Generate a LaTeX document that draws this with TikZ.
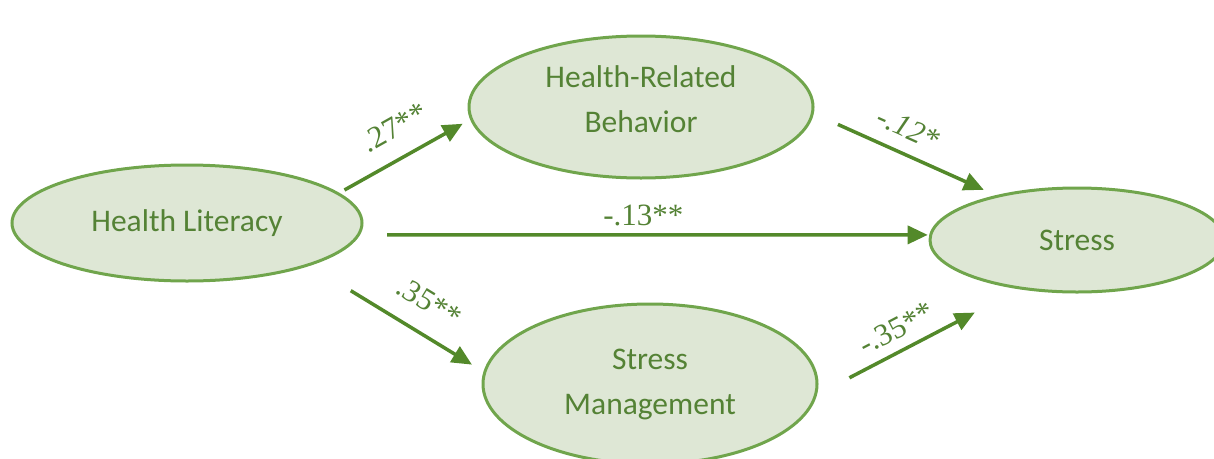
\documentclass[tikz,border=0pt]{standalone}
\usepackage{fontspec}
\setmainfont{Carlito}
\newfontfamily\coeffont{Liberation Serif}
\usetikzlibrary{shapes.geometric,arrows.meta}
\definecolor{leaf}{RGB}{84,130,53}
\definecolor{leafline}{RGB}{112,165,76}
\definecolor{leaffill}{RGB}{222,231,213}
\definecolor{pathgreen}{RGB}{83,137,42}
\begin{document}
\begin{tikzpicture}[x=1pt, y=-1pt,
    var/.style={ellipse, draw=leafline, fill=leaffill, line width=3pt, inner sep=0pt, outer sep=0pt,
      text=leaf, align=center, font=\fontsize{31.5}{45}\selectfont},
    eff/.style={draw=pathgreen, line width=3.5pt, -{Triangle[length=20pt,width=18pt]}},
    coef/.style={text=leaf, font=\coeffont\fontsize{31}{31}\selectfont, sloped, inner sep=0pt}]
   \useasboundingbox (0,0) rectangle (1214,458);
   % the four variables
   \node[var, minimum width=350pt, minimum height=116pt] (hl) at (187,223) {Health Literacy};
   \node[var, minimum width=344pt, minimum height=142pt, text depth=16pt] (hrb) at (641,107) {Health-Related\\Behavior};
   \node[var, minimum width=334pt, minimum height=160pt] (sm) at (650,384) {Stress\\Management};
   \node[var, minimum width=294pt, minimum height=104pt] (st) at (1077,240) {Stress};
   % paths with coefficients
   \draw[eff, shorten <=7.5pt, shorten >=10pt] (hl.11) -- (hrb.184)
      node[coef, pos=.533, above=18pt] {.27**};
   \draw[eff, shorten <=28pt, shorten >=15.5pt] (hrb.358) -- (st.151)
      node[coef, pos=.462, above=13pt] {\itshape -.12*};
   \draw[eff, shorten <=29pt, shorten >=3pt] (hl.356) -- (st.178)
      node[coef, pos=.498, above=7pt] {-.13**};
   \draw[eff, shorten <=49.7pt, shorten >=15pt] (hl.341) -- (sm.176)
      node[coef, pos=.593, above=19pt] {.35**};
   \draw[eff, shorten <=38.5pt, shorten >=52.8pt] (sm.356) -- (st.221)
      node[coef, pos=.443, above=10pt] {-.35**};
\end{tikzpicture}
\end{document}
